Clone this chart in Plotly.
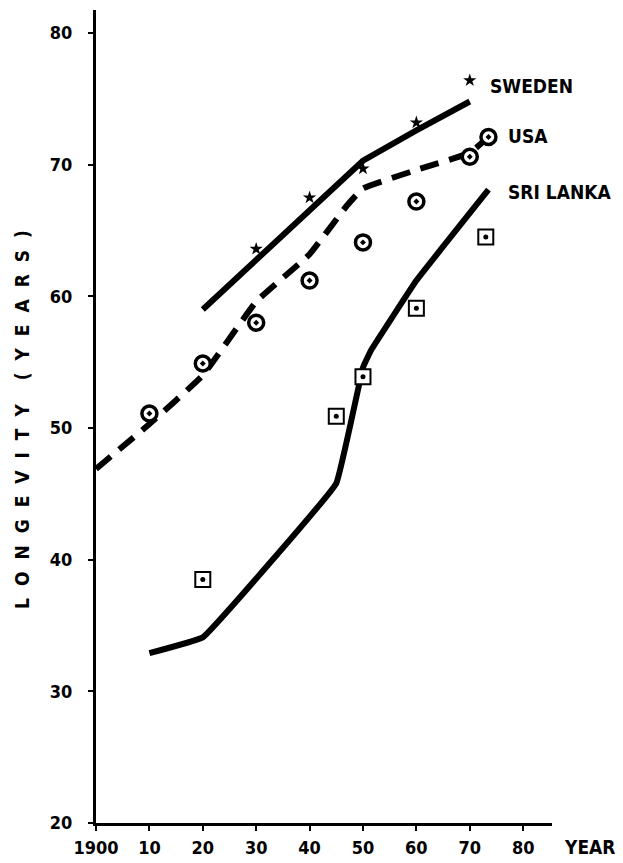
import plotly.graph_objects as go

# ---- data ----
sweden_line_year = [1920, 1940, 1950, 1960, 1970]
sweden_line_val = [59.0, 66.5, 70.3, 72.6, 74.8]
sweden_pts_year = [1930, 1940, 1950, 1960, 1970]
sweden_pts_val = [63.6, 67.5, 69.7, 73.2, 76.4]

usa_line_year = [1900, 1910, 1920, 1930, 1940, 1947, 1950, 1960, 1970, 1973.5]
usa_line_val = [46.9, 50.3, 54.0, 59.6, 63.2, 66.9, 68.2, 69.6, 70.9, 72.1]
usa_pts_year = [1910, 1920, 1930, 1940, 1950, 1960, 1970, 1973.5]
usa_pts_val = [51.1, 54.9, 58.0, 61.2, 64.1, 67.2, 70.6, 72.1]

sri_line_year = [1910, 1920, 1945, 1950, 1951.5, 1960, 1973.5]
sri_line_val = [32.9, 34.1, 45.8, 54.6, 55.9, 61.2, 68.1]
sri_pts_year = [1920, 1945, 1950, 1960, 1973]
sri_pts_val = [38.5, 50.9, 53.9, 59.1, 64.5]

x_ticks = [1900, 1910, 1920, 1930, 1940, 1950, 1960, 1970, 1980]
x_tick_labels = ["1900", "10", "20", "30", "40", "50", "60", "70", "80"]
y_ticks = [20, 30, 40, 50, 60, 70, 80]

FONT = "DejaVu Sans Condensed, Liberation Sans Narrow, Arial Narrow, sans-serif"

fig = go.Figure()

fig.add_trace(go.Scatter(x=sweden_line_year, y=sweden_line_val, mode="lines",
                         line=dict(color="black", width=6), hoverinfo="skip"))
fig.add_trace(go.Scatter(x=usa_line_year, y=usa_line_val, mode="lines",
                         line=dict(color="black", width=6, dash="19px,11px", shape="spline", smoothing=0.3),
                         hoverinfo="skip"))
fig.add_trace(go.Scatter(x=sri_line_year, y=sri_line_val, mode="lines",
                         line=dict(color="black", width=6, shape="spline", smoothing=0.2),
                         hoverinfo="skip"))

fig.add_trace(go.Scatter(x=sweden_pts_year, y=sweden_pts_val, mode="markers",
                         marker=dict(symbol="star", size=10, color="black")))
fig.add_trace(go.Scatter(x=usa_pts_year, y=usa_pts_val, mode="markers",
                         marker=dict(symbol="circle-dot", size=15, color="white",
                                     line=dict(color="black", width=3.5))))
fig.add_trace(go.Scatter(x=sri_pts_year, y=sri_pts_val, mode="markers",
                         marker=dict(symbol="square", size=15, color="white",
                                     line=dict(color="black", width=2))))
fig.add_trace(go.Scatter(x=sri_pts_year, y=sri_pts_val, mode="markers",
                         marker=dict(symbol="circle", size=5, color="black"),
                         hoverinfo="skip"))

ann_font = dict(family=FONT, size=19, color="black")
fig.add_annotation(x=1973.5, y=76.0, text="<b>SWEDEN</b>", showarrow=False,
                   xanchor="left", yanchor="middle", font=ann_font)
fig.add_annotation(x=1976.7, y=72.2, text="<b>USA</b>", showarrow=False,
                   xanchor="left", yanchor="middle", font=ann_font)
fig.add_annotation(x=1976.7, y=67.9, text="<b>SRI LANKA</b>", showarrow=False,
                   xanchor="left", yanchor="middle", font=ann_font)
fig.add_annotation(xref="paper", yref="paper", x=1.022, y=-0.0295, text="<b>YEAR</b>",
                   showarrow=False, xanchor="left", yanchor="middle",
                   font=dict(family=FONT, size=19, color="black"))
sp = "\u2002\u2009"
title_txt = sp.join(list("LONGEVITY")) + sp + sp + sp.join(list("(YEARS)"))
fig.add_annotation(xref="paper", yref="paper", x=-0.162, y=0.496,
                   text="<b>" + title_txt + "</b>", showarrow=False,
                   textangle=-90, xanchor="center", yanchor="middle",
                   font=dict(family=FONT, size=19, color="black"))

# the page body has an 8px margin, so the figure is sized and placed to fill the window
fig.update_layout(
    width=615, height=855,
    margin=dict(l=88, r=71, t=2, b=40, autoexpand=False),
    paper_bgcolor="white", plot_bgcolor="white",
    showlegend=False,
    font=dict(family=FONT, color="black"),
    xaxis=dict(range=[1900, 1985.4], tickvals=x_ticks, ticktext=x_tick_labels,
               showgrid=False, zeroline=False, showline=True, linecolor="black",
               linewidth=3, ticks="outside", ticklen=5, tickwidth=2, tickcolor="black",
               tickfont=dict(family=FONT, size=18, color="black", weight="bold"),
               ticklabelstandoff=1, automargin=False),
    yaxis=dict(range=[20, 81.75], tickvals=y_ticks,
               showgrid=False, zeroline=False, showline=True, linecolor="black",
               linewidth=3, ticks="outside", ticklen=5, tickwidth=2, tickcolor="black",
               tickfont=dict(family=FONT, size=18, color="black", weight="bold"),
               ticklabelstandoff=12, automargin=False),
)

fig.write_html("out.html")
